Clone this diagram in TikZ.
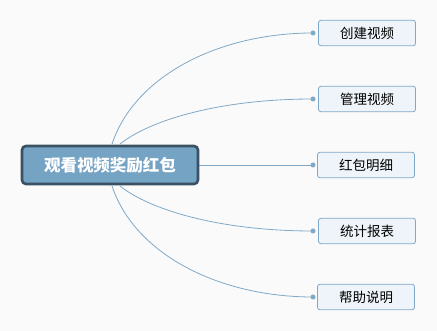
\documentclass[tikz,border=0pt]{standalone}
\usepackage{fontspec}
\setmainfont{Noto Sans CJK SC}
\definecolor{bgc}{HTML}{FAFAFA}
\definecolor{rootfill}{HTML}{75A3C4}
\definecolor{rootdraw}{HTML}{3A5063}
\definecolor{childfill}{HTML}{EEF4F9}
\definecolor{childdraw}{HTML}{7EA8CA}
\definecolor{linkc}{HTML}{80A9C8}
\begin{document}
\begin{tikzpicture}[x=1pt,y=-1pt,
  rootbox/.style={draw=rootdraw,line width=2.6pt,fill=rootfill,rounded corners=4pt,
    minimum width=176pt,minimum height=38pt,text=white,font=\fontsize{16.5}{19}\selectfont\bfseries,inner sep=0pt},
  childbox/.style={draw=childdraw,line width=0.8pt,fill=childfill,rounded corners=2.5pt,
    minimum width=97pt,minimum height=25.5pt,text=black,font=\fontsize{13.5}{16}\selectfont,inner sep=0pt},
  link/.style={draw=linkc,line width=0.8pt},
  dotc/.style={circle,fill=linkc,minimum size=5pt,inner sep=0pt}]
\useasboundingbox[fill=bgc] (0,0) rectangle (437,331);
\coordinate (r) at (110,165);
\node[childbox] (c1) at (367,33) {创建视频};
\node[childbox] (c2) at (367,99) {管理视频};
\node[childbox] (c3) at (366,165) {红包明细};
\node[childbox] (c4) at (367,231) {统计报表};
\node[childbox] (c5) at (366,297) {帮助说明};
\coordinate (s1) at (112,144);
\coordinate (s2) at (120,144);
\coordinate (s3) at (198,165);
\coordinate (s4) at (120,186);
\coordinate (s5) at (112,186);
\coordinate (d1) at (313,33);
\coordinate (d2) at (313,99);
\coordinate (d3) at (313,165);
\coordinate (d4) at (313,231);
\coordinate (d5) at (313,297);
\draw[link] (s1) .. controls (135,75) and (220,33) .. (d1);
\draw[link] (s2) .. controls (150,120) and (220,99) .. (d2);
\draw[link] (s3) -- (d3);
\draw[link] (s4) .. controls (150,210) and (220,231) .. (d4);
\draw[link] (s5) .. controls (135,255) and (220,297) .. (d5);
\node[rootbox] (root) at (r) {观看视频奖励红包};
\foreach \i in {1,...,5} \node[dotc] (dot\i) at (d\i) {};
\end{tikzpicture}
\end{document}
